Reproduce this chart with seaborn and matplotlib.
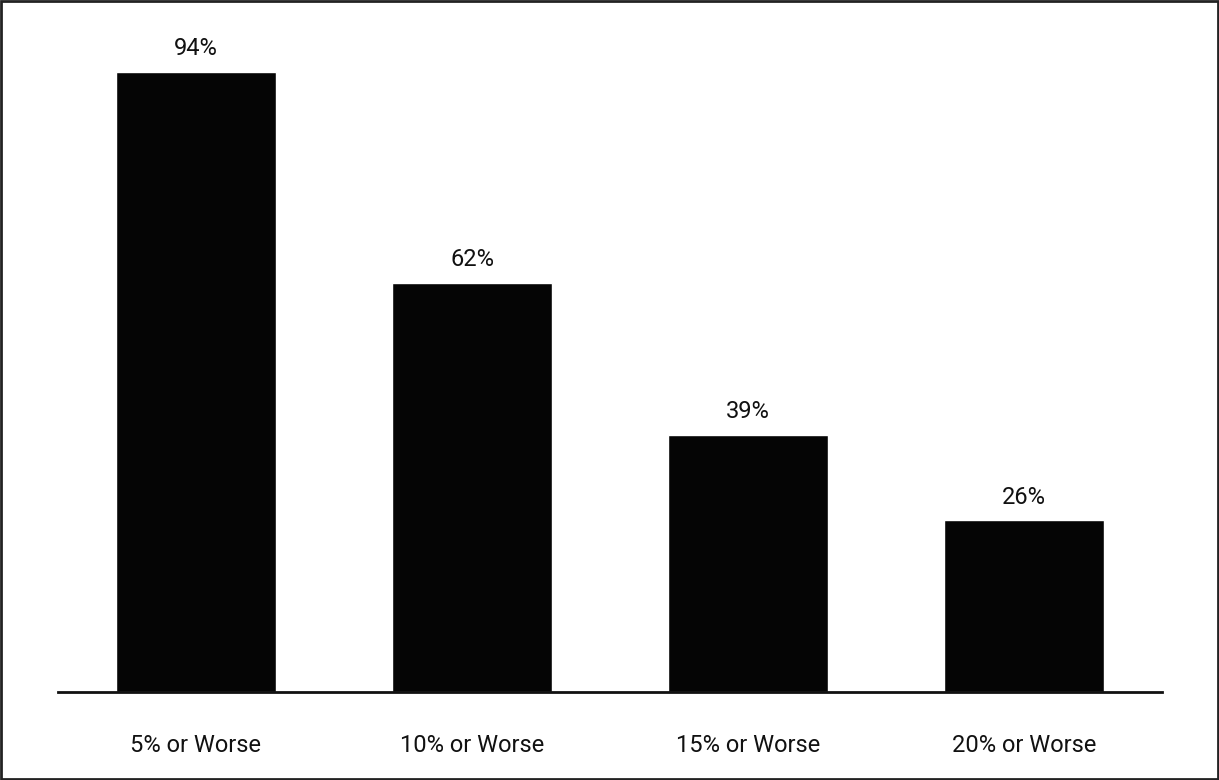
import matplotlib
matplotlib.use("Agg")
import matplotlib.pyplot as plt
import seaborn as sns
import pandas as pd
from matplotlib.patches import Rectangle

categories = ["5% or Worse", "10% or Worse", "15% or Worse", "20% or Worse"]
values = [94, 62, 39, 26]

sns.set_style("white")
plt.rcParams['font.family'] = ['Roboto', 'DejaVu Sans']

fig = plt.figure(figsize=(12.19, 7.80), dpi=100)
ax = fig.add_axes([58/1219, 88/780, 1104/1219, 660/780])
df = pd.DataFrame({"cat": categories, "val": values})
sns.barplot(data=df, x="cat", y="val", color="#050505", width=0.583, ax=ax, saturation=1)
ax.set_xlim(-0.5, 3.5)
ax.set_ylim(0, 100)
for i, v in enumerate(values):
    ax.text(i, v + 1.8, f"{v}%", ha="center", va="bottom", fontsize=17, color="#111")
for s in ["top", "right", "left"]:
    ax.spines[s].set_visible(False)
ax.spines["bottom"].set_linewidth(2)
ax.spines["bottom"].set_color("#111")
ax.set_yticks([])
ax.set_xlabel(""); ax.set_ylabel("")
ax.set_xticks(range(4))
ax.set_xticklabels(categories, fontsize=17, color="#111")
ax.tick_params(axis="x", which="major", length=0, pad=30)
ax.set_xticks([-0.5, 0.5, 1.5, 2.5, 3.5], minor=True)
ax.tick_params(axis="x", which="minor", length=12, width=2, color="#111", direction="out")
fig.patches.append(Rectangle((0.001, 0.001), 0.998, 0.998, transform=fig.transFigure,
                             fill=False, edgecolor="#222", linewidth=2))
fig.savefig("out.png", dpi=100)
